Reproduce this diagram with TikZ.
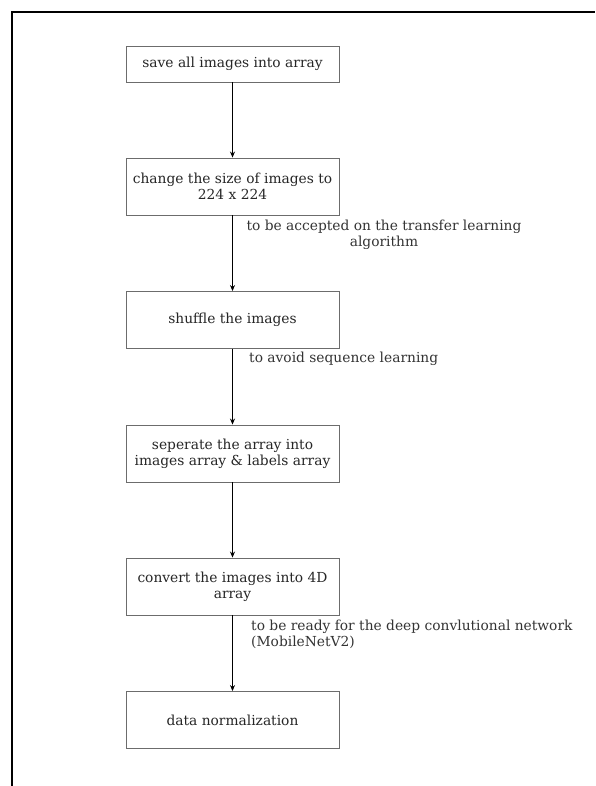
\documentclass[tikz,border=0pt]{standalone}
\usepackage{fontspec}
\setmainfont{DejaVu Serif}
\usetikzlibrary{arrows.meta}
\tikzset{
  stepbox/.style={draw=gray!85!black, line width=0.9pt, minimum width=213pt, align=center,
    fill=white, text=black!85, font=\fontsize{13.8}{16}\selectfont},
  note/.style={text=black!80, inner sep=0pt, font=\fontsize{13.8}{16}\selectfont},
  flow/.style={-{Stealth[length=6pt,width=5pt]}, line width=0.8pt}
}
\begin{document}
\begin{tikzpicture}[x=1pt,y=-1pt]
    \useasboundingbox (0,0) rectangle (595,786);
    % frame, top and left edges only
    \draw[line width=1.6pt] (12,786) -- (12,12) -- (595,12);
    \node[stepbox, minimum height=36pt] (save) at (232.5,64) {save all images into array};
    \node[stepbox, minimum height=57pt] (resize) at (232.5,186.5) {change the size of images to\\224 x 224};
    \node[stepbox, minimum height=57pt] (shuffle) at (232.5,320) {shuffle the images};
    \node[stepbox, minimum height=57pt] (split) at (232.5,453.5) {seperate the array into\\images array \& labels array};
    \node[stepbox, minimum height=57pt] (conv) at (232.5,586.5) {convert the images into 4D\\array};
    \node[stepbox, minimum height=57pt] (norm) at (232.5,720) {data normalization};
    \draw[flow] (save) -- (resize);
    \draw[flow] (resize) -- (shuffle);
    \draw[flow] (shuffle) -- (split);
    \draw[flow] (split) -- (conv);
    \draw[flow] (conv) -- (norm);
    % side notes
    \node[note, align=center] (why1) at (384,235) {to be accepted on the transfer learning\\algorithm};
    \node[note, anchor=west] (why2) at (249,359) {to avoid sequence learning};
    \node[note, anchor=west, align=left] (why3) at (251,634) {to be ready for the deep convlutional network\\(MobileNetV2)};
\end{tikzpicture}
\end{document}
